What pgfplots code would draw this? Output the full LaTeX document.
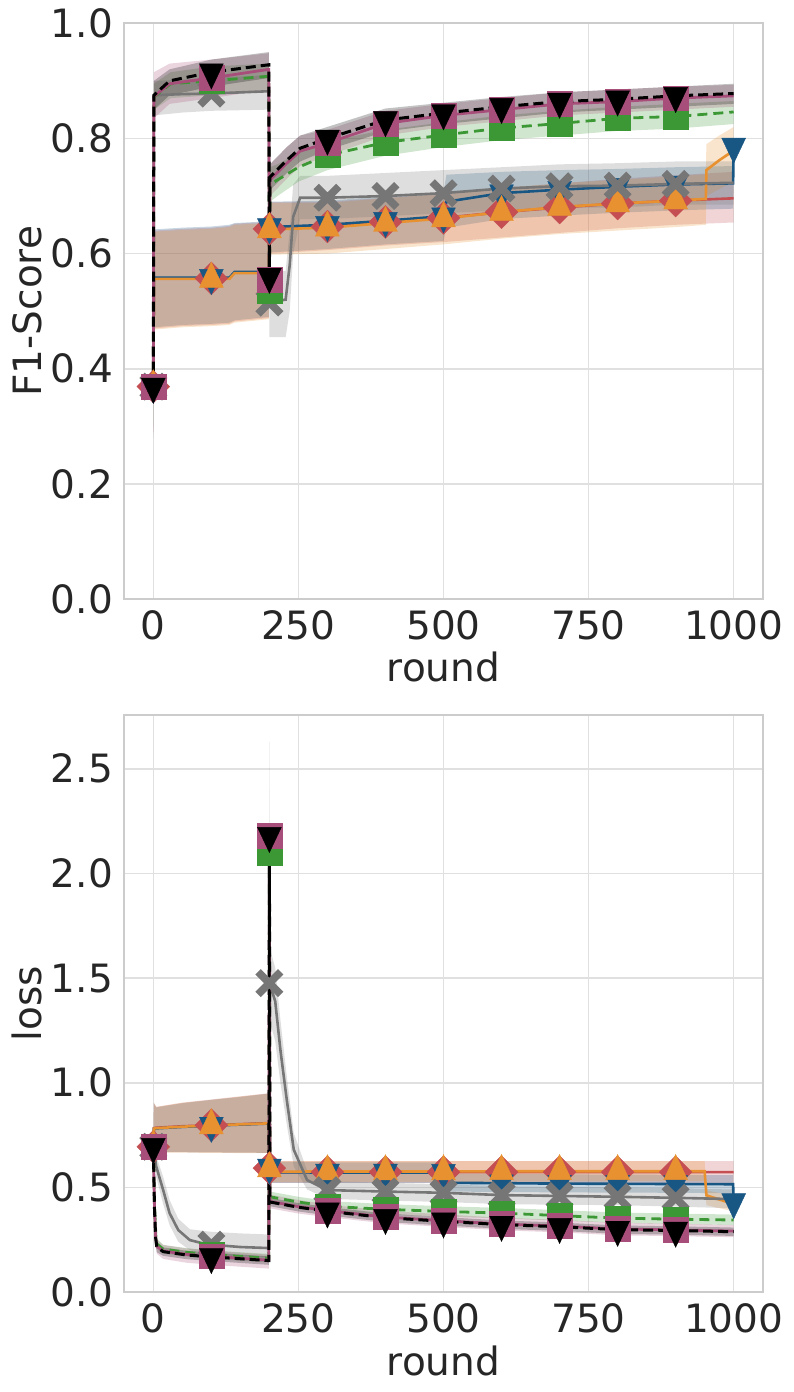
\documentclass[border=0pt]{standalone}
\usepackage{fontspec}
\setmainfont{DejaVu Sans}
\usepackage{pgfplots}
\usepackage{pgfplotstable}
\pgfplotsset{compat=1.18}
\usepgfplotslibrary{fillbetween}

\definecolor{cred}{RGB}{196,78,82}
\definecolor{cblue}{RGB}{24,86,132}
\definecolor{corange}{RGB}{232,145,48}
\definecolor{cpurple}{RGB}{168,78,122}
\definecolor{cgreen}{RGB}{60,152,52}
\definecolor{cgray}{RGB}{118,118,118}
\definecolor{labc}{RGB}{38,38,38}

% ---------- F1-score: x, mean, lower, upper ----------
\pgfplotstableread{
x m lo hi
0 0.369 0.29 0.45
1 0.557 0.470 0.640
50 0.557 0.474 0.643
100 0.557 0.476 0.645
131 0.557 0.478 0.648
140 0.567 0.482 0.652
199 0.567 0.488 0.655
200 0.643 0.600 0.690
201 0.643 0.600 0.690
300 0.647 0.606 0.690
400 0.655 0.614 0.697
500 0.662 0.620 0.704
600 0.672 0.628 0.713
700 0.680 0.636 0.722
800 0.687 0.644 0.730
900 0.692 0.650 0.736
1000 0.696 0.654 0.742
}\fr
\pgfplotstableread{
x m lo hi
0 0.369 0.29 0.45
1 0.558 0.472 0.642
50 0.558 0.476 0.645
100 0.558 0.478 0.647
131 0.558 0.480 0.650
140 0.568 0.484 0.653
199 0.568 0.490 0.656
200 0.646 0.602 0.690
201 0.646 0.602 0.690
300 0.650 0.608 0.692
400 0.657 0.616 0.699
500 0.665 0.622 0.706
505 0.690 0.645 0.737
600 0.705 0.660 0.742
700 0.711 0.666 0.745
800 0.716 0.671 0.747
900 0.720 0.675 0.750
999 0.722 0.678 0.752
1000 0.786 0.786 0.786
}\fb
\pgfplotstableread{
x m lo hi
0 0.369 0.29 0.45
1 0.556 0.468 0.638
50 0.556 0.472 0.641
100 0.556 0.474 0.643
131 0.556 0.476 0.646
140 0.566 0.480 0.650
199 0.566 0.486 0.653
200 0.642 0.598 0.688
201 0.642 0.598 0.688
300 0.645 0.600 0.688
400 0.653 0.608 0.696
500 0.661 0.616 0.704
600 0.672 0.626 0.714
700 0.681 0.634 0.722
800 0.687 0.640 0.728
900 0.692 0.646 0.734
952 0.695 0.650 0.738
953 0.745 0.700 0.790
975 0.762 0.712 0.805
1000 0.779 0.725 0.820
}\fo
\pgfplotstableread{
x m lo hi
0 0.369 0.30 0.44
1 0.875 0.840 0.900
50 0.877 0.845 0.902
100 0.878 0.848 0.905
199 0.882 0.850 0.910
200 0.515 0.455 0.570
228 0.520 0.455 0.570
235 0.580 0.500 0.640
241 0.664 0.600 0.720
253 0.697 0.660 0.735
300 0.697 0.660 0.735
400 0.700 0.665 0.740
500 0.705 0.670 0.745
600 0.713 0.675 0.750
700 0.717 0.680 0.755
800 0.718 0.680 0.757
900 0.721 0.685 0.760
1000 0.723 0.685 0.760
}\fg
\pgfplotstableread{
x m lo hi
0 0.369 0.30 0.44
1 0.872 0.850 0.895
30 0.895 0.870 0.915
100 0.900 0.875 0.925
199 0.908 0.885 0.930
200 0.535 0.500 0.570
201 0.720 0.690 0.750
214 0.728 0.700 0.755
250 0.750 0.725 0.775
300 0.771 0.745 0.795
400 0.793 0.770 0.815
500 0.806 0.785 0.828
600 0.818 0.797 0.840
700 0.826 0.805 0.848
800 0.835 0.813 0.855
900 0.838 0.817 0.860
1000 0.846 0.825 0.865
}\fgr
\pgfplotstableread{
x m lo hi
0 0.369 0.29 0.45
1 0.873 0.835 0.915
28 0.895 0.860 0.930
100 0.905 0.870 0.937
199 0.920 0.885 0.948
200 0.555 0.520 0.590
201 0.728 0.700 0.755
230 0.757 0.730 0.785
253 0.778 0.752 0.805
300 0.792 0.770 0.815
400 0.826 0.805 0.848
500 0.840 0.820 0.860
600 0.850 0.830 0.870
700 0.860 0.840 0.880
800 0.864 0.845 0.885
900 0.870 0.850 0.890
1000 0.874 0.855 0.893
}\fp
\pgfplotstableread{
x m lo hi
0 0.369 0.28 0.45
1 0.875 0.850 0.900
28 0.900 0.875 0.920
100 0.915 0.890 0.937
199 0.928 0.905 0.950
200 0.560 0.520 0.600
201 0.733 0.710 0.755
230 0.762 0.740 0.785
253 0.783 0.760 0.805
300 0.800 0.780 0.820
400 0.832 0.812 0.852
500 0.844 0.825 0.862
600 0.855 0.835 0.872
700 0.864 0.845 0.880
800 0.868 0.850 0.885
900 0.874 0.855 0.890
1000 0.878 0.860 0.895
}\fk

% ---------- loss: x, mean, lower, upper ----------
\pgfplotstableread{
x m lo hi
0 0.694 0.660 0.730
1 0.783 0.668 0.905
5 0.785 0.668 0.885
50 0.792 0.668 0.905
100 0.797 0.667 0.920
150 0.802 0.666 0.935
199 0.807 0.665 0.950
200 0.592 0.555 0.630
201 0.573 0.522 0.625
300 0.573 0.522 0.625
400 0.573 0.522 0.625
500 0.573 0.522 0.625
600 0.573 0.521 0.625
700 0.573 0.520 0.625
800 0.573 0.519 0.625
900 0.573 0.518 0.625
1000 0.573 0.515 0.625
}\lr
\pgfplotstableread{
x m lo hi
0 0.694 0.660 0.730
1 0.780 0.668 0.900
5 0.782 0.668 0.882
50 0.789 0.668 0.902
100 0.795 0.667 0.918
150 0.800 0.666 0.932
199 0.805 0.665 0.948
200 0.595 0.560 0.630
201 0.572 0.522 0.622
300 0.571 0.522 0.620
400 0.571 0.522 0.620
500 0.570 0.522 0.620
505 0.522 0.480 0.566
600 0.520 0.478 0.565
700 0.518 0.476 0.562
800 0.517 0.475 0.561
900 0.516 0.474 0.560
999 0.515 0.472 0.558
1000 0.430 0.430 0.430
}\lb
\pgfplotstableread{
x m lo hi
0 0.694 0.660 0.730
1 0.781 0.666 0.902
5 0.783 0.666 0.884
50 0.790 0.666 0.904
100 0.796 0.665 0.918
150 0.801 0.664 0.934
199 0.806 0.663 0.948
200 0.590 0.553 0.628
201 0.575 0.525 0.625
300 0.576 0.526 0.625
400 0.576 0.526 0.625
500 0.576 0.526 0.625
600 0.577 0.527 0.625
700 0.577 0.528 0.625
800 0.577 0.529 0.625
900 0.577 0.530 0.625
950 0.577 0.530 0.625
953 0.462 0.415 0.485
1000 0.420 0.385 0.460
}\lo
\pgfplotstableread{
x m lo hi
0 0.694 0.660 0.730
5 0.600 0.550 0.650
17 0.487 0.420 0.550
28 0.377 0.320 0.440
43 0.296 0.240 0.350
63 0.248 0.200 0.300
92 0.228 0.180 0.290
100 0.226 0.178 0.288
150 0.215 0.170 0.280
199 0.210 0.165 0.275
200 1.476 1.300 1.650
210 1.390 1.200 1.550
219 1.156 1.000 1.300
230 0.917 0.800 1.030
242 0.680 0.600 0.760
265 0.535 0.490 0.580
300 0.487 0.445 0.530
400 0.480 0.437 0.522
500 0.474 0.430 0.515
600 0.463 0.420 0.505
700 0.459 0.417 0.502
800 0.455 0.415 0.500
900 0.450 0.408 0.495
1000 0.444 0.400 0.490
}\lg
\pgfplotstableread{
x m lo hi
0 0.694 0.660 0.730
2 0.420 0.390 0.450
5 0.232 0.210 0.260
17 0.205 0.185 0.225
57 0.190 0.170 0.210
100 0.178 0.158 0.198
199 0.162 0.142 0.182
200 2.100 1.800 2.400
201 0.455 0.430 0.480
250 0.430 0.405 0.455
300 0.410 0.385 0.435
400 0.395 0.370 0.420
500 0.385 0.360 0.410
600 0.377 0.352 0.402
700 0.365 0.341 0.391
800 0.353 0.330 0.380
900 0.348 0.325 0.375
1000 0.344 0.320 0.370
}\lgr
\pgfplotstableread{
x m lo hi
0 0.694 0.660 0.730
1 0.550 0.500 0.600
2 0.400 0.360 0.440
4 0.260 0.225 0.295
6 0.218 0.183 0.250
17 0.196 0.158 0.225
57 0.180 0.140 0.208
100 0.171 0.130 0.198
199 0.152 0.112 0.178
200 2.180 1.720 2.630
201 0.433 0.400 0.465
250 0.408 0.375 0.440
300 0.389 0.358 0.418
400 0.358 0.328 0.388
500 0.341 0.311 0.371
600 0.325 0.295 0.355
700 0.315 0.285 0.345
800 0.301 0.271 0.331
900 0.297 0.267 0.327
1000 0.291 0.262 0.320
}\lp
\pgfplotstableread{
x m lo hi
0 0.694 0.670 0.720
1 0.550 0.500 0.600
2 0.400 0.360 0.440
4 0.260 0.230 0.290
6 0.215 0.190 0.240
17 0.193 0.173 0.213
57 0.177 0.157 0.197
100 0.168 0.148 0.188
199 0.150 0.130 0.170
200 2.180 1.720 2.630
201 0.430 0.410 0.450
250 0.405 0.385 0.425
300 0.386 0.366 0.406
400 0.355 0.335 0.375
500 0.338 0.318 0.358
600 0.322 0.302 0.342
700 0.312 0.292 0.332
800 0.298 0.278 0.318
900 0.294 0.274 0.314
1000 0.288 0.268 0.308
}\lk

% shaded std band from the lo/hi columns
\newcommand{\band}[3]{%
  \addplot[draw=none, name path=#3u] table[x=x,y=hi]{#1};
  \addplot[draw=none, name path=#3l] table[x=x,y=lo]{#1};
  \addplot[fill=#2, fill opacity=0.24, draw=none] fill between[of=#3u and #3l];
}
% mean line plus markers every 100 rounds
\newcommand{\series}[4]{%
  \addplot[#2] table[x=x,y=m]{#1};
  \addplot[only marks, #3, #4] table[x=x,y=m]{#1};
}

\pgfplotsset{
  panel/.style={
    scale only axis, width=319.2pt,
    xmin=-50, xmax=1050,
    xtick={0,250,500,750,1000},
    axis line style={draw=black!20, line width=0.9pt},
    grid=major, grid style={draw=black!12, line width=0.8pt},
    major tick length=0pt,
    tick style={draw=none},
    /pgf/number format/assume math mode=true,
    tick label style={font=\fontsize{19.5}{23}\selectfont, text=labc},
    xticklabel style={/pgf/number format/1000 sep={}, anchor=north, inner sep=0pt, yshift=-5.5pt},
    yticklabel style={/pgf/number format/fixed, /pgf/number format/fixed zerofill,
      /pgf/number format/precision=1, anchor=east, inner sep=0pt, xshift=-5.5pt},
    label style={font=\fontsize{19.5}{23}\selectfont, text=labc},
    xlabel={round},
    xlabel style={at={(axis description cs:0.5,-0.144)}, anchor=base},
    ylabel style={at={(axis description cs:-0.1524,0.5)}, anchor=center},
  },
  mk/.style={x filter/.expression={abs(x-100*round(x/100))<0.5 ? (x<950 ? x : nan) : nan}},
  mkall/.style={x filter/.expression={abs(x-100*round(x/100))<0.5 ? x : nan}},
  sred/.style={color=cred, line width=1.3pt},
  sblue/.style={color=cblue, line width=1.3pt},
  sorange/.style={color=corange, line width=1.3pt},
  sgray/.style={color=cgray, line width=1.3pt},
  sgreen/.style={color=cgreen, line width=1.4pt, dash pattern=on 5pt off 3pt},
  spurple/.style={color=cpurple, line width=1.4pt},
  sblack/.style={color=black, line width=1.5pt, dash pattern=on 5pt off 2.5pt},
  mred/.style={color=cred, mark=square*, mark size=5.8pt, mark options={rotate=45, solid, line width=0.2pt}},
  mblue/.style={color=cblue, mark=triangle*, mark size=8.4pt, mark options={rotate=180, xscale=0.82, solid, line width=0.2pt}},
  morange/.style={color=corange, mark=triangle*, mark size=8.4pt, mark options={xscale=0.82, solid, line width=0.2pt}},
  mgray/.style={color=cgray, mark=x, mark size=8pt, mark options={line width=3.8pt, solid}},
  mgreen/.style={color=cgreen, mark=square*, mark size=6.2pt, mark options={solid, line width=0.2pt}},
  mpurple/.style={color=cpurple, mark=square*, mark size=6.2pt, mark options={solid, line width=0.2pt}},
  mblack/.style={color=black, mark=triangle*, mark size=8.4pt, mark options={rotate=180, xscale=0.82, solid, line width=0.2pt}},
}

\begin{document}
\begin{tikzpicture}
\begin{axis}[panel, at={(0pt,0pt)}, anchor=north west, height=287.85pt,
  ymin=0, ymax=1, ytick={0,0.2,0.4,0.6,0.8,1.0}, ylabel={F1-Score}]
\band{\fr}{cred}{a}
\band{\fb}{cblue}{b}
\band{\fo}{corange}{c}
\band{\fg}{cgray}{d}
\band{\fgr}{cgreen}{e}
\band{\fp}{cpurple}{f}
\band{\fk}{black}{g}
\series{\fr}{sred}{mred}{mk}
\series{\fb}{sblue}{mblue}{mkall}
\series{\fo}{sorange}{morange}{mk}
\series{\fg}{sgray}{mgray}{mk}
\series{\fgr}{sgreen}{mgreen}{mk}
\series{\fp}{spurple}{mpurple}{mk}
\series{\fk}{sblack}{mblack}{mk}
\end{axis}

\begin{axis}[panel, at={(0pt,-345.85pt)}, anchor=north west, height=288.5pt,
  ymin=0, ymax=2.757, ytick={0,0.5,1.0,1.5,2.0,2.5}, ylabel={loss}]
\band{\lr}{cred}{a}
\band{\lb}{cblue}{b}
\band{\lo}{corange}{c}
\band{\lg}{cgray}{d}
\band{\lgr}{cgreen}{e}
\band{\lp}{cpurple}{f}
\band{\lk}{black}{g}
\series{\lr}{sred}{mred}{mk}
\series{\lb}{sblue}{mblue}{mkall}
\series{\lo}{sorange}{morange}{mk}
\series{\lg}{sgray}{mgray}{mk}
\series{\lgr}{sgreen}{mgreen}{mk}
\series{\lp}{spurple}{mpurple}{mk}
\series{\lk}{sblack}{mblack}{mk}
\end{axis}
\pgfresetboundingbox
\useasboundingbox (-62.15pt,11.65pt) rectangle (334.35pt,-684.35pt);
\end{tikzpicture}
\end{document}
